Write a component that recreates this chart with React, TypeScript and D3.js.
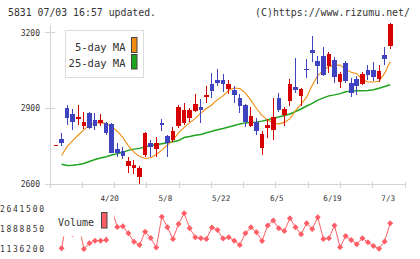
import React from 'react'
import * as d3 from 'd3'

// daily candles, oldest first (index 0 .. 60)
const opens = [
  2753, 2780, 2901, 2880, 2860, 2832, 2883, 2853, 2843, 2843, 2839, 2739, 2732, 2673, 2665, 2629,
  2715, 2763, 2741, 2843, 2792, 2776, 2832, 2843, 2861, 2889, 2907, 2945, 2999, 3012, 3012, 2977,
  2972, 2943, 2912, 2832, 2845, 2745, 2824, 2816, 2943, 2873, 2929, 2987, 2949, 3056, 3132, 3089,
  3108, 3069, 3092, 3005, 3081, 3003, 3016, 2996, 3052, 3052, 3016, 3112, 3148,
]
const highs = [
  2757, 2803, 2912, 2900, 2912, 2885, 2885, 2883, 2880, 2848, 2843, 2763, 2747, 2709, 2696, 2672,
  2808, 2776, 2789, 2860, 2796, 2827, 2912, 2920, 2903, 2956, 2936, 2989, 3040, 3056, 3036, 3012,
  2989, 2956, 2916, 2907, 2861, 2809, 2860, 2940, 2963, 2907, 3016, 3099, 2980, 3096, 3189, 3109,
  3144, 3125, 3105, 3043, 3087, 3019, 3027, 3043, 3073, 3083, 3072, 3144, 3237,
]
const lows = [
  2753, 2752, 2835, 2815, 2835, 2820, 2820, 2816, 2829, 2793, 2725, 2709, 2699, 2645, 2641, 2600,
  2709, 2709, 2709, 2809, 2707, 2769, 2821, 2835, 2847, 2885, 2843, 2923, 2940, 2989, 2965, 2956,
  2923, 2883, 2827, 2827, 2793, 2716, 2785, 2776, 2885, 2829, 2909, 2963, 2909, 3020, 3085, 2996,
  3029, 3040, 3003, 2981, 3003, 2945, 2953, 2992, 3013, 3009, 3007, 3072, 3136,
]
const closes = [
  2756, 2765, 2861, 2845, 2865, 2848, 2821, 2829, 2856, 2801, 2725, 2725, 2711, 2692, 2676, 2665,
  2803, 2749, 2764, 2833, 2763, 2812, 2907, 2896, 2893, 2916, 2893, 2952, 2969, 3001, 2996, 2996,
  2953, 2909, 2845, 2872, 2812, 2800, 2836, 2867, 2893, 2899, 2996, 2973, 2976, 3054, 3121, 3069,
  3033, 3117, 3025, 3036, 3009, 2960, 2989, 3036, 3032, 3025, 3049, 3096, 3233,
]

const ma5 = [
  null, 2714, 2750, 2773, 2795, 2815, 2835, 2842, 2844, 2840, 2828, 2810, 2785, 2752, 2727, 2710,
  2702, 2705, 2718, 2735, 2755, 2775, 2803, 2825, 2843, 2861, 2882, 2900, 2915, 2935, 2950, 2972,
  2981, 2979, 2962, 2932, 2900, 2872, 2855, 2843, 2839, 2845, 2860, 2892, 2917, 2945, 2992, 3030,
  3050, 3067, 3072, 3072, 3056, 3044, 3038, 3015, 3005, 3005, 3008, 3040, 3085,
]
const ma25 = [
  null, 2679, 2674, 2675, 2678, 2682, 2690, 2698, 2704, 2709, 2716, 2721, 2727, 2734, 2739, 2742,
  2748, 2753, 2756, 2760, 2764, 2768, 2773, 2785, 2789, 2794, 2797, 2804, 2810, 2816, 2821, 2827,
  2833, 2839, 2843, 2845, 2846, 2850, 2855, 2861, 2866, 2872, 2878, 2888, 2898, 2910, 2920, 2933,
  2942, 2950, 2954, 2959, 2966, 2969, 2970, 2970, 2971, 2974, 2980, 2987, 2994,
]

const volumes = [
  null, 1162000, 2300000, 1690000, 2200000, 1136200, 1352000, 1451000, 1451000, 1477000, 2641500,
  1970000, 1995000, 1731000, 1413000, 1288000, 1792000, 1555000, 1190000, 2361000, 1959000,
  1520000, 2084000, 2490000, 1921000, 1580000, 1542000, 1520000, 1950000, 1857000, 1530000,
  1580000, 1451000, 1288000, 1731000, 1959000, 1775000, 1440000, 2030000, 2220000, 1921000,
  1819000, 2300000, 1959000, 1700000, 2110000, 1895000, 2338000, 1515000, 1542000, 2030000,
  1201000, 1629000, 1477000, 1320000, 1542000, 1390000, 1250000, 1150000, 1425000, 2110000,
]

const dateLabels = ['4/20', '5/8', '5/22', '6/5', '6/19', '7/3']
const dateLabelAt = [10, 20, 30, 40, 50, 60]
const priceTicks = [2600, 2900, 3200]
const volumeTicks = [1136200, 1888850, 2641500]

const UP = '#d70000'
const DOWN = '#4043bf'
const ORANGE = '#f08c10'
const GREEN = '#1ea51e'
const VOL = '#ff5e66'
const AXIS = '#d4d4d4'
const TEXT = '#333'
const FONT = '"DejaVu Sans Mono", monospace'

export default function App() {
  const n = closes.length
  const x = d3.scaleLinear().domain([0, n - 1]).range([56, 390.2])
  const y = d3.scaleLinear().domain([2600, 3200]).range([184.2, 32.8])
  const yv = d3.scaleLinear().domain([1136200, 2641500]).range([249, 209.3])
  const gridX = d3.scaleLinear().domain([0, 11]).range([50, 405])

  const maLine = d3
    .line<number | null>()
    .defined(d => d != null)
    .x((_, i) => x(i))
    .y(d => y(d as number))
  const volLine = d3
    .line<number | null>()
    .defined(d => d != null)
    .x((_, i) => x(i))
    .y(d => yv(d as number))

  const bodyW = 4.6

  return (
    <svg
      width={420}
      height={259}
      style={{position: 'absolute', left: 0, top: 0, background: '#fff'}}
      fontFamily={FONT}>
      <text x={8} y={15.5} fontSize={10} fill={TEXT} textLength={148} lengthAdjust="spacingAndGlyphs">
        5831 07/03 16:57 updated.
      </text>
      <text x={410} y={15.5} fontSize={10} fill={TEXT} textAnchor="end" textLength={155} lengthAdjust="spacingAndGlyphs">
        (C)https://www.rizumu.net/
      </text>

      {/* price axes */}
      <g shapeRendering="crispEdges" stroke={AXIS}>
        <line x1={50} x2={50} y1={25} y2={188} />
        <line x1={50} x2={405} y1={y(2600)} y2={y(2600)} />
        {priceTicks.map(t => (
          <line key={t} x1={45} x2={55} y1={y(t)} y2={y(t)} />
        ))}
        {d3.range(12).map(i => (
          <line key={i} x1={gridX(i)} x2={gridX(i)} y1={182} y2={188} />
        ))}
      </g>
      {priceTicks.map(t => (
        <text key={t} x={40} y={y(t) + 2.8} fontSize={8} fill={TEXT} textAnchor="end">
          {t}
        </text>
      ))}
      {dateLabels.map((l, i) => (
        <text key={l} x={x(dateLabelAt[i]) - 2} y={200.5} fontSize={7.6} fill={TEXT} textAnchor="middle">
          {l}
        </text>
      ))}

      {/* moving averages */}
      <path d={maLine(ma25) || ''} fill="none" stroke={GREEN} strokeWidth={1.5} />
      <path d={maLine(ma5) || ''} fill="none" stroke={ORANGE} strokeWidth={1.1} />

      {/* candles */}
      <g shapeRendering="crispEdges">
        {closes.map((c, i) => {
          const o = opens[i]
          const col = c >= o ? UP : DOWN
          const top = y(Math.max(o, c))
          const h = Math.max(1, y(Math.min(o, c)) - top)
          return (
            <g key={i}>
              <line x1={x(i)} x2={x(i)} y1={y(highs[i])} y2={y(lows[i])} stroke={col} strokeWidth={1} />
              <rect x={x(i) - bodyW / 2} y={top} width={bodyW} height={h} fill={col} />
            </g>
          )
        })}
      </g>

      {/* price legend */}
      <rect x={65.5} y={30.5} width={78} height={47} fill="#fff" stroke="#ddd" />
      <text x={125.5} y={50.5} fontSize={10.5} fill={TEXT} textAnchor="end">
        5-day MA
      </text>
      <text x={125.5} y={67} fontSize={10.5} fill={TEXT} textAnchor="end">
        25-day MA
      </text>
      <rect x={131.5} y={37.5} width={5.5} height={15} fill={ORANGE} stroke="#444" />
      <rect x={131.5} y={54.5} width={5.5} height={14.5} fill={GREEN} stroke="#444" />

      {/* volume */}
      <path d={volLine(volumes) || ''} fill="none" stroke={VOL} strokeWidth={1} />
      {volumes.map((v, i) =>
        v == null ? null : (
          <path
            key={i}
            d={`M${x(i)},${yv(v) - 3}l3,3l-3,3l-3,-3z`}
            fill={VOL}
          />
        ),
      )}
      {volumeTicks.map(t => (
        <text key={t} x={44} y={yv(t) + 3} fontSize={8} fill={TEXT} textAnchor="end" textLength={44} lengthAdjust="spacing">
          {t}
        </text>
      ))}
      <rect x={56} y={203} width={58} height={33.5} fill="#fff" />
      <text x={58} y={226} fontSize={10} fill={TEXT}>
        Volume
      </text>
      <rect x={101.5} y={212.5} width={5.5} height={15.5} fill={VOL} stroke="#444" />
    </svg>
  )
}
